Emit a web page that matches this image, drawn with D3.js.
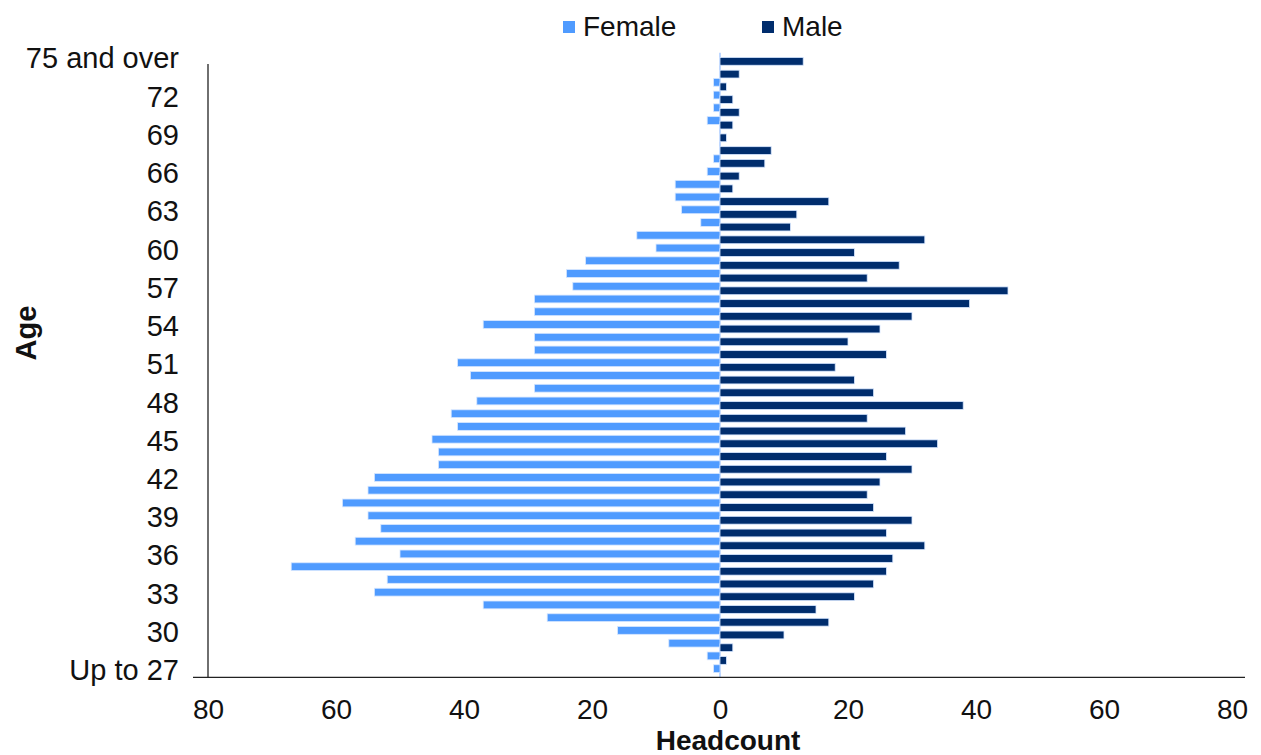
<!DOCTYPE html>
<html>
<head>
<meta charset="utf-8">
<script src="https://cdn.jsdelivr.net/npm/d3@7"></script>
<style>
  body { margin: 0; background: #fff; }
  svg { display: block; font-family: "Liberation Sans", Arial, sans-serif; }
</style>
</head>
<body>
<svg id="chart" width="1261" height="755"></svg>
<script>
// ages, bottom to top
const ages = ['Up to 27'].concat(d3.range(28, 75).map(String), ['75 and over'])
const series = ['Female', 'Male']
const female = [1,2,8,16,27,37,54,52,67,50,57,53,55,59,55,54,44,44,45,41,42,38,29,39,41,29,29,37,29,29,23,24,21,10,13,3,6,7,7,2,1,0,0,2,1,1,1,0,0]
const male = [0,1,2,10,17,15,21,24,26,27,32,26,30,24,23,25,30,26,34,29,23,38,24,21,18,26,20,25,30,39,45,23,28,21,32,11,12,17,2,3,7,8,1,2,3,2,1,3,13]
const xTicks = [-80, -60, -40, -20, 0, 20, 40, 60, 80]
const colors = {Female: '#4f9bff', Male: '#002d6d'}

const svg = d3.select('#chart')
const plotLeft = 208, plotRight = 1232, plotTop = 52.7, plotBottom = 677.3

const x = d3.scaleLinear().domain([-80, 80]).range([plotLeft, plotRight])
const y = d3.scaleBand().domain(ages).range([plotBottom, plotTop]).padding(0)
// the two bars of an age overlap a little, female on top of the band
const barH = 7.8
const offset = {Female: 0.2, Male: y.bandwidth() - barH - 0.2}

const rows = ages.map((a, i) => ({age: a, Female: female[i], Male: male[i]}))

// zero line
svg.append('line')
  .attr('x1', x(0)).attr('x2', x(0))
  .attr('y1', plotTop).attr('y2', plotBottom)
  .attr('stroke', '#a9caff').attr('stroke-width', 1.5)

// bars
const g = svg.append('g')
series.forEach(s => {
  g.selectAll(null)
    .data(rows.filter(d => d[s] > 0))
    .enter().append('rect')
    .attr('x', d => s === 'Female' ? x(-d[s]) : x(0))
    .attr('width', d => x(d[s]) - x(0))
    .attr('y', d => y(d.age) + offset[s])
    .attr('height', barH)
    .attr('fill', colors[s])
    .attr('stroke', '#d6e6ff')
    .attr('stroke-width', 0.8)
})

// axis lines
svg.append('line')
  .attr('x1', plotLeft).attr('x2', plotLeft)
  .attr('y1', 64).attr('y2', plotBottom)
  .attr('stroke', '#222').attr('stroke-width', 1.3)
svg.append('line')
  .attr('x1', 193).attr('x2', 1245)
  .attr('y1', plotBottom).attr('y2', plotBottom)
  .attr('stroke', '#222').attr('stroke-width', 1.3)

// x axis
const xAxis = svg.append('g')
  .attr('transform', `translate(0,${plotBottom})`)
  .call(d3.axisBottom(x).tickValues(xTicks).tickSize(0).tickPadding(22)
    .tickFormat(d => Math.abs(d)))
xAxis.select('.domain').remove()
xAxis.selectAll('text')
  .attr('font-size', 28).attr('fill', '#111')
  .attr('font-family', '"Liberation Sans", Arial, sans-serif')

// y axis
const yAxis = svg.append('g')
  .attr('transform', `translate(${plotLeft},0)`)
  .call(d3.axisLeft(y).tickValues(ages.filter((a, i) => i % 3 === 0)).tickSize(0).tickPadding(29))
yAxis.select('.domain').remove()
yAxis.selectAll('text')
  .attr('font-size', 29).attr('fill', '#111')
  .attr('font-family', '"Liberation Sans", Arial, sans-serif')

// axis titles
svg.append('text')
  .attr('x', x(0) + 8).attr('y', 750)
  .attr('text-anchor', 'middle')
  .attr('font-size', 28).attr('font-weight', 'bold').attr('fill', '#111')
  .text('Headcount')
svg.append('text')
  .attr('transform', 'translate(36,333) rotate(-90)')
  .attr('text-anchor', 'middle')
  .attr('font-size', 29).attr('font-weight', 'bold').attr('fill', '#111')
  .text('Age')

// legend
const legendX = [563, 762]
series.forEach((s, i) => {
  const lg = svg.append('g').attr('transform', `translate(${legendX[i]},0)`)
  lg.append('rect').attr('y', 21).attr('width', 12).attr('height', 12).attr('fill', colors[s])
  lg.append('text').attr('x', 20).attr('y', 36)
    .attr('font-size', 28).attr('fill', '#111')
    .text(s)
})
</script>
</body>
</html>
